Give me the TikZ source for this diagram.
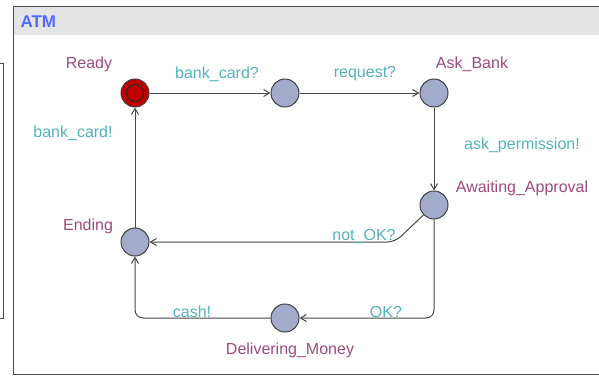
\documentclass[tikz,border=0pt]{standalone}
\usepackage{fontspec}
\setmainfont{Liberation Sans}
\usepackage{xcolor}
\usepackage{tikz}
\usetikzlibrary{positioning,arrows.meta}

\definecolor{locfill}{HTML}{A3ABCB}
\definecolor{initred}{HTML}{C00000}
\definecolor{locname}{HTML}{9E4A7A}
\definecolor{synclab}{HTML}{52B3B8}
\definecolor{titlebar}{HTML}{E4E4E4}
\definecolor{titleblue}{HTML}{4F6BFF}
\definecolor{frame}{HTML}{4A4A4A}

\tikzset{
  loc/.style={circle, draw=black!75, fill=locfill, line width=1pt,
    minimum size=28pt, inner sep=0pt},
  initloc/.style={loc, fill=initred},
  initmark/.style={circle, draw=black!85, line width=1pt, minimum size=17pt, inner sep=0pt},
  locname/.style={text=locname, font=\fontsize{16}{18}\selectfont},
  sync/.style={text=synclab, font=\fontsize{16}{18}\selectfont},
  trans/.style={draw=black!72, line width=1pt, -{Straight Barb[length=6pt,width=7pt]},
    rounded corners=8pt},
}

\begin{document}
\begin{tikzpicture}[x=1pt, y=-1pt]
  \useasboundingbox (0,0) rectangle (599,376);

  % Window behind
  \draw[frame, line width=1pt] (0,63) -- (3.5,63) -- (3.5,318) -- (0,318);

  % Template window
  \fill[titlebar] (13,7) rectangle (599,35);
  \draw[frame, line width=1.5pt] (599,6.5) -- (13.5,6.5) -- (13.5,374.5) -- (599,374.5);
  \node[anchor=west, text=titleblue, font=\fontsize{17}{19}\selectfont\bfseries] (title) at (17,22) {ATM};

  % Locations
  \node[initloc] (ready) at (135,93) {};
  \node[initmark] (readyin) at (ready.center) {};
  \node[loc] (card) at (285,93) {};
  \node[loc] (ask) at (434,93) {};
  \node[loc] (await) at (434,205) {};
  \node[loc] (ending) at (135,242) {};
  \node[loc] (deliver) at (285,318) {};

  % Location names
  \node[locname] (nready) at (89,64) {Ready};
  \node[locname] (nask) at (472,64) {Ask\_Bank};
  \node[locname] (nawait) at (522,188) {Awaiting\_Approval};
  \node[locname] (nending) at (88,226) {Ending};
  \node[locname] (ndeliver) at (290,350) {Delivering\_Money};

  % Bend points
  \coordinate (bendnok) at (395,242);

  % Transitions
  \draw[trans] (ready) -- (card);
  \draw[trans] (card) -- (ask);
  \draw[trans] (ask) -- (await);
  \draw[trans] (await) -- (bendnok) -- (ending);
  \draw[trans] (await) |- (deliver);
  \draw[trans] (deliver) -| (ending);
  \draw[trans] (ending) -- (ready);

  % Synchronisations
  \node[sync] (sbank) at (217,74) {bank\_card?};
  \node[sync] (sreq) at (365,74) {request?};
  \node[sync] (sperm) at (522,145) {ask\_permission!};
  \node[sync] (snok) at (364,236) {not\_OK?};
  \node[sync] (sok) at (386,312) {OK?};
  \node[sync] (scash) at (192,312) {cash!};
  \node[sync] (sret) at (73,133) {bank\_card!};
\end{tikzpicture}
\end{document}
